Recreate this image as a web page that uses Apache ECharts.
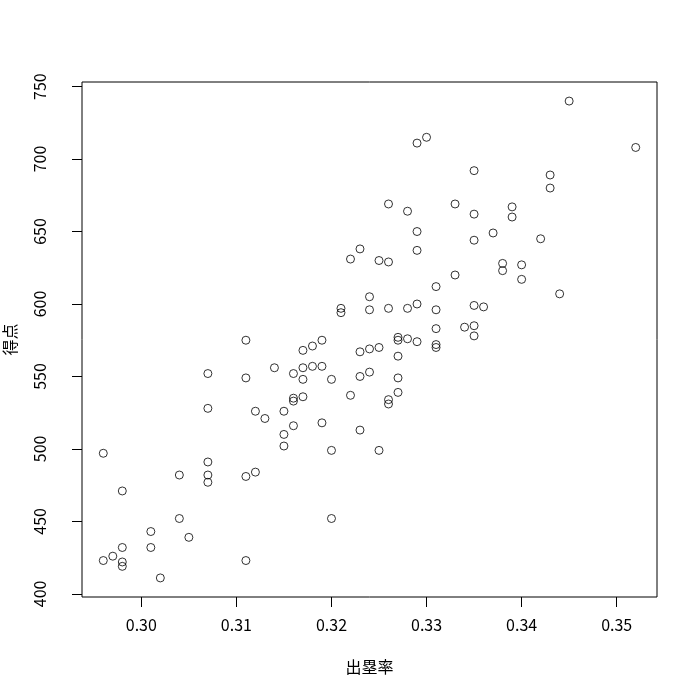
<!DOCTYPE html>
<html>
<head>
<meta charset="utf-8">
<script src="https://cdn.jsdelivr.net/npm/echarts@6/dist/echarts.min.js"></script>
<style>html,body{margin:0;padding:0;background:#fff}#c{width:699px;height:699px}</style>
</head>
<body>
<div id="c"></div>
<script>
const obp = [0.329,0.330,0.335,0.326,0.328,0.333,0.335,0.329,0.329,0.335,0.323,0.322,0.325,0.326,0.333,0.331,0.324,0.321,0.321,0.324,0.326,0.328,0.329,0.331,0.335,0.331,0.334,0.335,0.335,0.319,0.345,0.352,0.343,0.343,0.339,0.339,0.337,0.342,0.338,0.338,0.340,0.340,0.344,0.336,0.311,0.314,0.307,0.311,0.307,0.312,0.313,0.296,0.307,0.304,0.307,0.307,0.311,0.312,0.298,0.304,0.301,0.305,0.298,0.301,0.297,0.296,0.298,0.298,0.311,0.302,0.318,0.317,0.323,0.324,0.325,0.327,0.327,0.328,0.329,0.331,0.331,0.316,0.317,0.318,0.319,0.317,0.320,0.323,0.324,0.327,0.327,0.327,0.316,0.316,0.317,0.322,0.326,0.326,0.315,0.316,0.319,0.315,0.315,0.323,0.320,0.325,0.320];
const runs = [711,715,692,669,664,669,662,650,637,644,638,631,630,629,620,612,605,597,594,596,597,597,600,596,599,583,584,585,578,575,740,708,689,680,667,660,649,645,628,623,627,617,607,598,575,556,552,549,528,526,521,497,491,482,482,477,481,484,471,452,443,439,432,432,426,423,422,419,423,411,571,568,567,569,570,577,575,576,574,572,570,552,556,557,557,548,548,550,553,564,549,539,535,533,536,537,534,531,526,516,518,510,502,513,499,499,452];
const xTicks = [0.30,0.31,0.32,0.33,0.34,0.35];
const yTicks = [400,450,500,550,600,650,700,750];
const xTitle = '出塁率';
const yTitle = '得点';

const points = obp.map((v,i)=>[v, runs[i]]);
const xMin = 0.296, xMax = 0.352, yMin = 411, yMax = 740;
const xPad = (xMax-xMin)*0.04, yPad = (yMax-yMin)*0.04;
const font = '"Noto Sans CJK JP", "DejaVu Sans", sans-serif';

const chart = echarts.init(document.getElementById('c'), null, {renderer:'canvas'});
chart.setOption({
  animation: false,
  backgroundColor: '#fff',
  grid: {left: 82, right: 42, top: 82, bottom: 102, outerBoundsMode: 'none', containLabel: false,
    show: true, borderColor: '#000', borderWidth: 1, backgroundColor: 'transparent'},
  xAxis: {
    type: 'value', min: xMin - xPad, max: xMax + xPad,
    axisLine: {show: false},
    splitLine: {show: false},
    axisTick: {show: true, length: 10, customValues: xTicks, lineStyle: {color: '#000', width: 1}},
    axisLabel: {customValues: xTicks, margin: 20, color: '#000', fontSize: 16, fontFamily: font,
      formatter: v => v.toFixed(2)},
    name: xTitle, nameLocation: 'middle', nameGap: 62,
    nameTextStyle: {color: '#000', fontSize: 16, fontFamily: font}
  },
  yAxis: {
    type: 'value', min: yMin - yPad, max: yMax + yPad,
    axisLine: {show: false},
    splitLine: {show: false},
    axisTick: {show: true, length: 10, customValues: yTicks, lineStyle: {color: '#000', width: 1}},
    axisLabel: {customValues: yTicks, rotate: 90, margin: 34, color: '#000', fontSize: 16, fontFamily: font},
    name: yTitle, nameLocation: 'middle', nameGap: 64, nameRotate: 90,
    nameTextStyle: {color: '#000', fontSize: 16, fontFamily: font}
  },
  series: [{
    type: 'scatter',
    data: points,
    symbol: 'circle',
    symbolSize: 8,
    itemStyle: {color: 'rgba(0,0,0,0)', borderColor: '#000', borderWidth: 1},
    emphasis: {disabled: true}
  }]
});
</script>
</body>
</html>
